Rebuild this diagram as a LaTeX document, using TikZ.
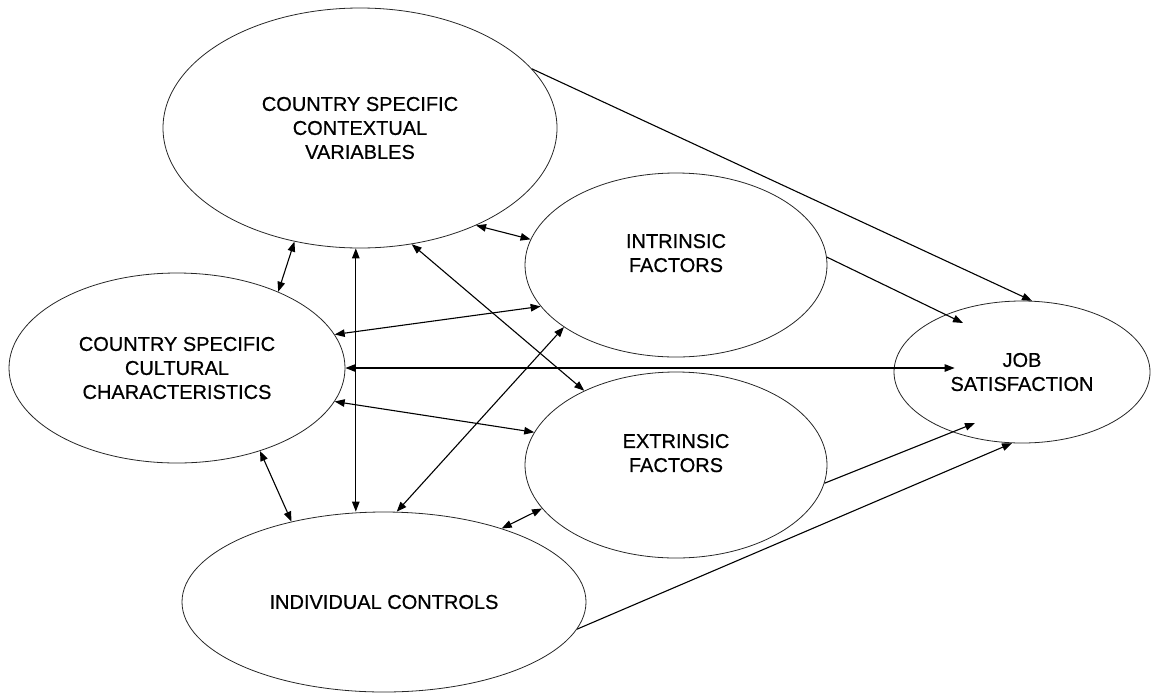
\documentclass[tikz,border=0pt]{standalone}
\usepackage{fontspec}
\setmainfont{Liberation Sans}[FakeBold=0.6]
\usepackage{tikz}
\usetikzlibrary{arrows.meta, calc, shapes.geometric}
\newcommand{\figfont}{\fontsize{20pt}{24pt}\selectfont}
\tikzset{
  oval/.style n args={2}{ellipse, draw=black!85, line width=0.8pt,
              minimum width=#1, minimum height=#2, inner sep=0pt,
              align=center, font=\figfont},
  arr/.style={-{Triangle[length=10pt, width=7.5pt]}, line width=1.1pt},
  darr/.style={{Triangle[length=10pt, width=7.5pt]}-{Triangle[length=10pt, width=7.5pt]},
               line width=1.1pt},
}

\begin{document}
\begin{tikzpicture}[x=1pt, y=-1pt]
  \useasboundingbox (0,0) rectangle (1151,694);

  \node[oval={394pt}{240pt}] (ctx)   at (360,128)  {COUNTRY SPECIFIC\\CONTEXTUAL\\VARIABLES};
  \node[oval={302pt}{184pt}] (intr)  at (676,265)  {INTRINSIC\\FACTORS\\\mbox{}};
  \node[oval={336pt}{190pt}] (cult)  at (177,368)  {COUNTRY SPECIFIC\\CULTURAL\\CHARACTERISTICS};
  \node[oval={302pt}{186pt}] (extr)  at (676,465)  {EXTRINSIC\\FACTORS\\\mbox{}};
  \node[oval={404pt}{180pt}] (indiv) at (384,602)  {INDIVIDUAL CONTROLS};
  \node[oval={256pt}{142pt}] (job)   at (1022,372) {JOB\\SATISFACTION};

  % correlations between the antecedents
  \draw[darr] (ctx.240) -- (cult.37);
  \draw[darr] (ctx.268) -- (ctx.268 |- indiv.north);
  \draw[darr] (ctx.294) -- (extr.141);
  \draw[darr] (ctx.320) -- (intr.170);
  \draw[darr] (cult.12) -- (intr.197);
  \draw[darr] (cult.348) -- (extr.167);
  \draw[darr] (cult.315) -- (indiv.139);
  \draw[darr] (indiv.82) -- (intr.209);
  \draw[darr] (indiv.32) -- (extr.198);
  \draw[darr] (cult.east) -- ($(cult.east -| job.west)+(61,0)$);

  % paths into job satisfaction
  \draw[arr] (ctx.19)    -- (job.82);
  \draw[arr] (intr.3)    -- ($(job.center)+(-59,-49)$);
  \draw[arr] (extr.353)  -- ($(job.center)+(-47,51)$);
  \draw[arr] (indiv.352) -- (job.262);
\end{tikzpicture}
\end{document}
